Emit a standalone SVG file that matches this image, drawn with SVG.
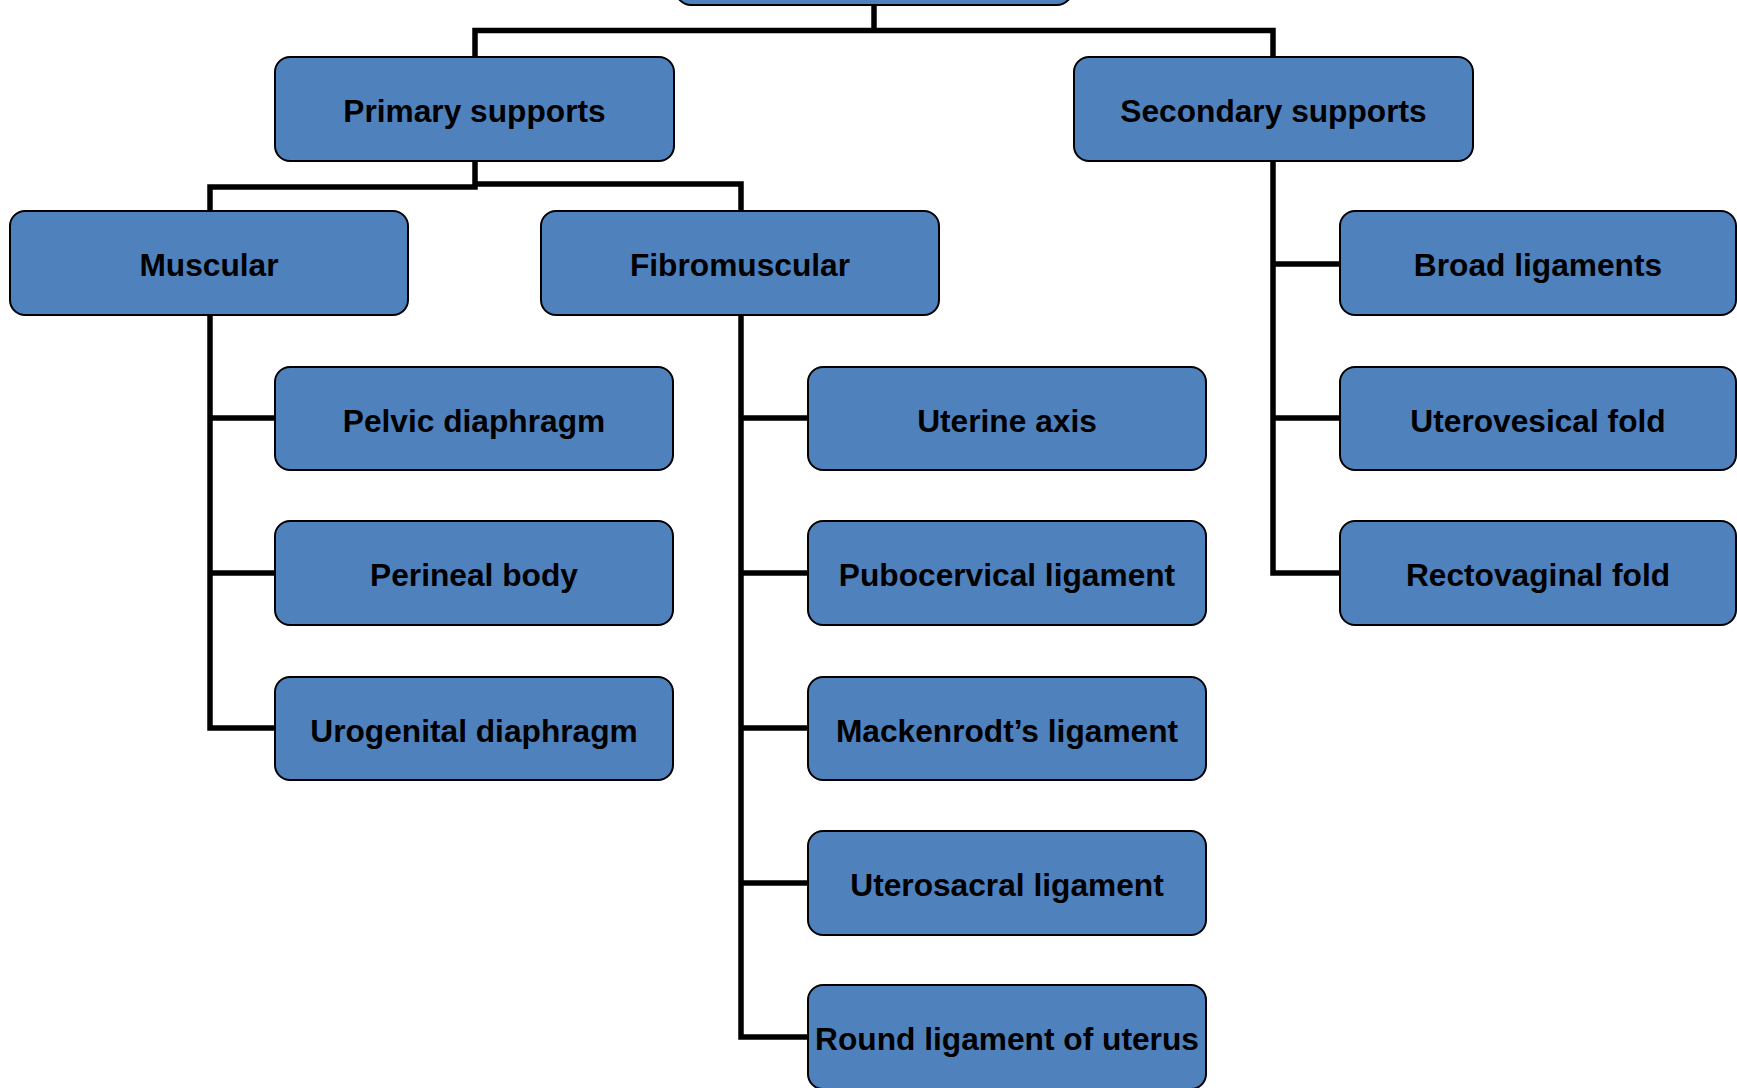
<svg xmlns="http://www.w3.org/2000/svg" width="1737" height="1088" viewBox="0 0 1737 1088">
<style>
.box{fill:#4F81BD;stroke:#000;stroke-width:2}
.lbl{font-family:"Liberation Sans",Arial,sans-serif;font-weight:bold;font-size:31.7px;fill:#000;text-anchor:middle}
.con{fill:none;stroke:#000;stroke-width:5.5;stroke-linejoin:miter;stroke-linecap:butt}
</style>
<rect width="1737" height="1088" fill="#fff"/>
<g id="connectors" class="con">
<path d="M874 5V30.5M475 57V30.5H1273V57"/>
<path d="M475 161V187H210V211"/>
<path d="M475 184H741V211"/>
<path d="M210 315V728H275M210 418H275M210 573H275"/>
<path d="M741 315V1037H808M741 418H808M741 573H808M741 728H808M741 883H808"/>
<path d="M1273 161V573H1340M1273 264H1340M1273 418H1340"/>
</g>
<g id="n-top"><rect class="box" x="676" y="-98" width="396" height="103" rx="15"/></g>
<g id="n-primary"><rect class="box" x="275" y="57" width="399" height="104" rx="15"/><text class="lbl" x="474.5" y="121.5">Primary supports</text></g>
<g id="n-secondary"><rect class="box" x="1074" y="57" width="399" height="104" rx="15"/><text class="lbl" x="1273.5" y="121.5">Secondary supports</text></g>
<g id="n-muscular"><rect class="box" x="10" y="211" width="398" height="104" rx="15"/><text class="lbl" x="209" y="275.5">Muscular</text></g>
<g id="n-fibromuscular"><rect class="box" x="541" y="211" width="398" height="104" rx="15"/><text class="lbl" x="740" y="275.5">Fibromuscular</text></g>
<g id="n-broad"><rect class="box" x="1340" y="211" width="396" height="104" rx="15"/><text class="lbl" x="1538" y="275.5">Broad ligaments</text></g>
<g id="n-pelvic"><rect class="box" x="275" y="367" width="398" height="103" rx="15"/><text class="lbl" x="474" y="431.5">Pelvic diaphragm</text></g>
<g id="n-perineal"><rect class="box" x="275" y="521" width="398" height="104" rx="15"/><text class="lbl" x="474" y="585.5">Perineal body</text></g>
<g id="n-urogenital"><rect class="box" x="275" y="677" width="398" height="103" rx="15"/><text class="lbl" x="474" y="741.5">Urogenital diaphragm</text></g>
<g id="n-uterine-axis"><rect class="box" x="808" y="367" width="398" height="103" rx="15"/><text class="lbl" x="1007" y="431.5">Uterine axis</text></g>
<g id="n-pubocervical"><rect class="box" x="808" y="521" width="398" height="104" rx="15"/><text class="lbl" x="1007" y="585.5">Pubocervical ligament</text></g>
<g id="n-mackenrodt"><rect class="box" x="808" y="677" width="398" height="103" rx="15"/><text class="lbl" x="1007" y="741.5">Mackenrodt’s ligament</text></g>
<g id="n-uterosacral"><rect class="box" x="808" y="831" width="398" height="104" rx="15"/><text class="lbl" x="1007" y="895.5">Uterosacral ligament</text></g>
<g id="n-round"><rect class="box" x="808" y="985" width="398" height="104" rx="15"/><text class="lbl" x="1007" y="1049.5">Round ligament of uterus</text></g>
<g id="n-uterovesical"><rect class="box" x="1340" y="367" width="396" height="103" rx="15"/><text class="lbl" x="1538" y="431.5">Uterovesical fold</text></g>
<g id="n-rectovaginal"><rect class="box" x="1340" y="521" width="396" height="104" rx="15"/><text class="lbl" x="1538" y="585.5">Rectovaginal fold</text></g>
</svg>
